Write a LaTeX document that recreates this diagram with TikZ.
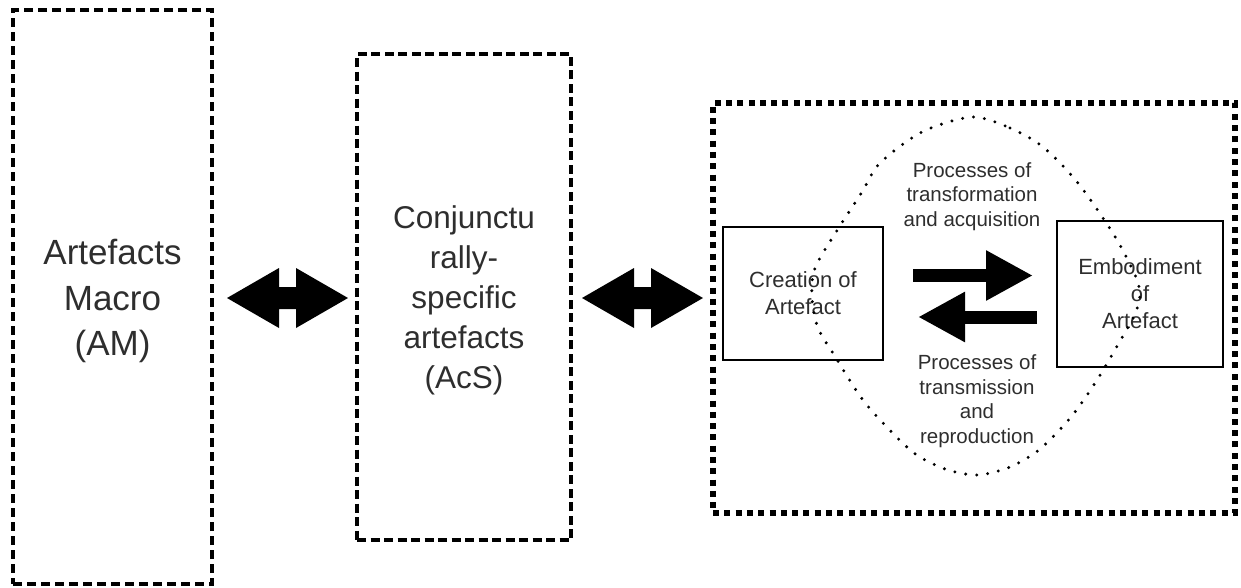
\documentclass[tikz,border=0pt]{standalone}
\usepackage{fontspec}
\setmainfont{Liberation Sans}
\usetikzlibrary{calc,arrows.meta}

\tikzset{
  pics/bigdarrow/.style={code={
    \fill (-60.5,0) -- (-8.5,-30) -- (-8.5,-11) -- (8.5,-11) -- (8.5,-30)
      -- (60.5,0) -- (8.5,30) -- (8.5,11) -- (-8.5,11) -- (-8.5,30) -- cycle;}},
}

\begin{document}
\begin{tikzpicture}[x=1pt,y=-1pt,
  every node/.style={inner sep=0pt, outer sep=0pt, text=black!82, align=center},
  ambox/.style={draw, line width=3.5pt, dash pattern=on 9pt off 5pt},
  acsbox/.style={draw, line width=4pt, dash pattern=on 9pt off 4.5pt},
  framebox/.style={draw, line width=6pt, dash pattern=on 6pt off 5.3pt},
  stagebox/.style={draw, line width=2pt},
  bigfont/.style={font=\fontsize{35}{45.7}\selectfont},
  midfont/.style={font=\fontsize{31.5}{40}\selectfont},
  stagefont/.style={font=\fontsize{22}{27}\selectfont},
  procfont/.style={font=\fontsize{20.5}{24.5}\selectfont},
  flowarrow/.style={line width=13pt, -{Triangle[length=47pt,width=47pt]}},
  dotline/.style={line width=3.3pt, line cap=round, dash pattern=on 0pt off 11pt},
]
\useasboundingbox (0,0) rectangle (1241,587);

% the three levels
\node[ambox, minimum width=199pt, minimum height=574pt] (am) at (112.5,297) {};
\node[bigfont] (amtext) at ($(am.center)+(0,4)$) {Artefacts\\Macro\\(AM)};
\node[acsbox, minimum width=214pt, minimum height=486pt] (acs) at (464,297) {};
\node[midfont] (acstext) at ($(acs.center)+(0,3)$)
  {Conjunctu\\rally-\\specific\\artefacts\\(AcS)};
\node[framebox, minimum width=522pt, minimum height=410pt] (frame) at (974,308) {};

% links between the levels
\pic at ($(am.east)!0.5!(acs.west)+(3,1)$) {bigdarrow};
\pic at ($(acs.east)!0.5!(frame.west)+(0.5,-4.5)$) {bigdarrow};

% the artefact cycle
\node[stagebox, minimum width=160pt, minimum height=133pt, stagefont] (cre) at (803,293.5)
  {Creation of\\Artefact};
\node[stagebox, minimum width=166pt, minimum height=146pt, stagefont] (emb) at (1140,294)
  {Embodiment\\of\\Artefact};

\draw[flowarrow] ($(cre.east)+(30,-18)$) -- ($(emb.west)+(-24,-18.5)$);
\draw[flowarrow] ($(emb.west)+(-20,23)$) -- ($(cre.east)+(35,23.5)$);

\node[procfont] (ptop) at (972,196.5) {Processes of\\transformation\\and acquisition};
\node[procfont] (pbot) at (977,401) {Processes of\\transmission\\and\\reproduction};

\draw[dotline] plot[smooth cycle] coordinates {
  (972,117) (1010,128) (1043,147) (1078,183) (1114,235) (1135,275) (1140,295)
  (1135,314) (1120,341) (1097,380) (1071,417) (1040,449) (1010,467) (977,475)
  (945,469) (914,453) (882,422) (860,396) (836,358) (818,328) (812,298)
  (815,268) (838,229) (862,192) (880,163) (922,132)};
\end{tikzpicture}
\end{document}
